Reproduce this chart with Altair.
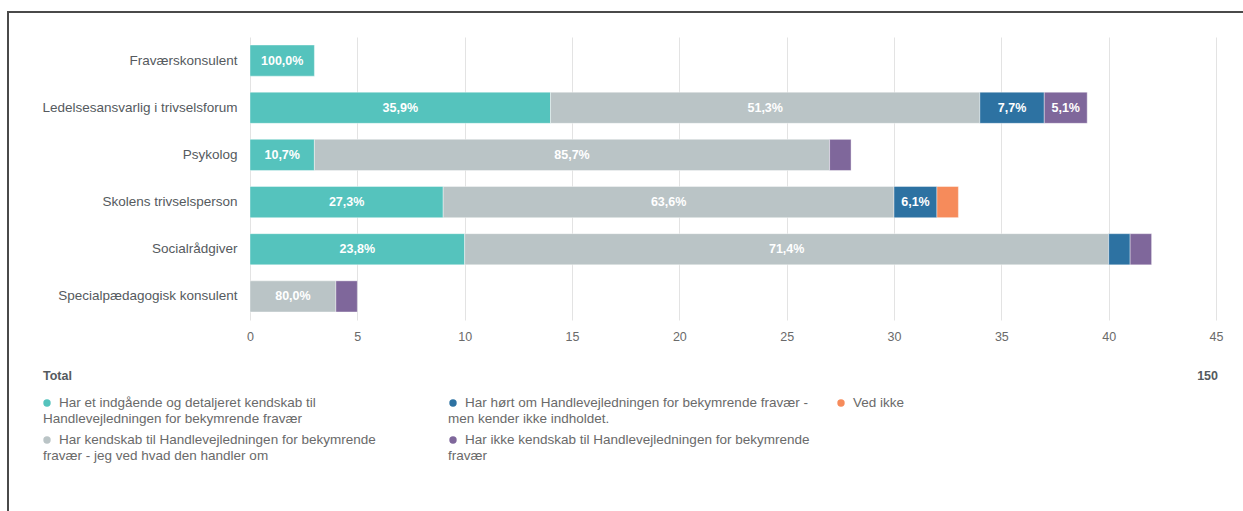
import altair as alt
import pandas as pd

# ---------------- data ----------------
categories = [
    "Fraværskonsulent",
    "Ledelsesansvarlig i trivselsforum",
    "Psykolog",
    "Skolens trivselsperson",
    "Socialrådgiver",
    "Specialpædagogisk konsulent",
]
series_names = [
    "Har et indgående og detaljeret kendskab til Handlevejledningen for bekymrende fravær",
    "Har kendskab til Handlevejledningen for bekymrende fravær - jeg ved hvad den handler om",
    "Har hørt om Handlevejledningen for bekymrende fravær - men kender ikke indholdet.",
    "Ved ikke",
    "Har ikke kendskab til Handlevejledningen for bekymrende fravær",
]
counts_detailed = [3, 14, 3, 9, 10, 0]
counts_known = [0, 20, 24, 21, 30, 4]
counts_heard = [0, 3, 0, 2, 1, 0]
counts_dontknow = [0, 0, 0, 1, 0, 0]
counts_notknown = [0, 2, 1, 0, 1, 1]
series_counts = [counts_detailed, counts_known, counts_heard, counts_dontknow, counts_notknown]

# legend text as it wraps in the picture (first line, second line)
legend_lines = [
    ["Har et indgående og detaljeret kendskab til", "Handlevejledningen for bekymrende fravær"],
    ["Har kendskab til Handlevejledningen for bekymrende", "fravær - jeg ved hvad den handler om"],
    ["Har hørt om Handlevejledningen for bekymrende fravær -", "men kender ikke indholdet."],
    ["Ved ikke", ""],
    ["Har ikke kendskab til Handlevejledningen for bekymrende", "fravær"],
]
total_label = "Total"
x_ticks = [0, 5, 10, 15, 20, 25, 30, 35, 40, 45]

# ---------------- styles ----------------
colors = ["#55c3bd", "#bac4c6", "#2d72a2", "#f68b5b", "#7f679b"]
FONT = "Liberation Sans"
W, H = 1243, 511
OX, OY = 250, 37          # plot origin
PW, PH = 966, 283         # plot size

rows = []
for si, (name, vals) in enumerate(zip(series_names, series_counts)):
    for cat, v in zip(categories, vals):
        if v > 0:
            rows.append({"category": cat, "series": name, "count": v, "order": si})
df = pd.DataFrame(rows)
grand_total = int(df["count"].sum())

base = (
    alt.Chart(df)
    .transform_joinaggregate(total="sum(count)", groupby=["category"])
    .transform_calculate(
        pct="100 * datum.count / datum.total",
    )
    .transform_calculate(
        label="replace(format(datum.pct, '.1f'), '.', ',') + '%'"
    )
    .transform_stack(
        stack="count",
        groupby=["category"],
        as_=["x0", "x1"],
        sort=[alt.SortField("order", order="ascending")],
    )
    .transform_calculate(mid="(datum.x0 + datum.x1) / 2")
)

y_enc = alt.Y(
    "category:N",
    sort=categories,
    scale=alt.Scale(paddingInner=0.34, paddingOuter=0.17),
    axis=alt.Axis(
        title=None, domain=False, ticks=False, grid=False, labelPadding=13,
        labelFont=FONT, labelFontSize=13.5, labelColor="#555a5e", labelLimit=300,
    ),
)
x_scale = alt.Scale(domain=[0, 45], nice=False)

bars = base.mark_bar(stroke="white", strokeWidth=0.4).encode(
    y=y_enc,
    x=alt.X(
        "x0:Q",
        scale=x_scale,
        axis=alt.Axis(
            title=None, domain=False, ticks=False, values=x_ticks, labelFlush=False,
            grid=True, gridColor="#e3e3e3", gridWidth=1,
            labelFont=FONT, labelFontSize=12.5, labelColor="#6a6a6a", labelPadding=10,
        ),
    ),
    x2="x1:Q",
    color=alt.Color("series:N", scale=alt.Scale(domain=series_names, range=colors), legend=None),
)

labels = base.transform_filter("datum.count >= 2").mark_text(
    color="white", font=FONT, fontSize=12.5, fontWeight="bold", baseline="middle"
).encode(
    y=alt.Y("category:N", sort=categories),
    x=alt.X("mid:Q", scale=x_scale),
    text="label:N",
)

one = pd.DataFrame({"k": [0]})


def txt(t, ax, ay, align="left", size=13.5, color="#6a6a6a", weight="normal"):
    return alt.Chart(one).mark_text(
        align=align, baseline="middle", font=FONT, fontSize=size, color=color, fontWeight=weight
    ).encode(x=alt.value(ax - OX), y=alt.value(ay - OY), text=alt.value(t))


def dot(ax, ay, col):
    return alt.Chart(one).mark_point(filled=True, shape="circle", size=55, opacity=1, color=col).encode(
        x=alt.value(ax - OX), y=alt.value(ay - OY)
    )


deco = []
# frame lines (left and top)
deco.append(alt.Chart(one).mark_rule(color="#4a4a4a", strokeWidth=2).encode(
    x=alt.value(8 - OX), y=alt.value(11 - OY), y2=alt.value(H - OY)))
deco.append(alt.Chart(one).mark_rule(color="#4a4a4a", strokeWidth=2).encode(
    x=alt.value(7 - OX), x2=alt.value(W - OX), y=alt.value(12 - OY)))

deco.append(txt(total_label, 43, 376, weight="bold", color="#555a5e", size=12.5))
deco.append(txt(str(grand_total), 1218, 376, align="right", weight="bold", color="#555a5e", size=12.5))

# legend layout: item order in the picture (row-major, 3 columns)
legend_order = [0, 2, 3, 1, 4]
col_dot_x = [47, 453, 841]
col_wrap_x = [43, 448, 836]
row_y = [403, 440]
line_h = 16
for pos, si in enumerate(legend_order):
    c, r = pos % 3, pos // 3
    dx, y0 = col_dot_x[c], row_y[r]
    deco.append(dot(dx, y0, colors[si]))
    l1, l2 = legend_lines[si]
    deco.append(txt(l1, dx + 12, y0))
    if l2:
        deco.append(txt(l2, col_wrap_x[c], y0 + line_h))

chart = alt.layer(bars, labels, *deco).properties(
    width=PW, height=PH,
    background="white",
    autosize=alt.AutoSizeParams(type="none"),
    padding={"left": OX, "top": OY, "right": W - OX - PW, "bottom": H - OY - PH},
).configure_view(stroke="transparent", strokeWidth=0)

chart.save("out.html", embed_options={"renderer": "svg", "actions": False})
